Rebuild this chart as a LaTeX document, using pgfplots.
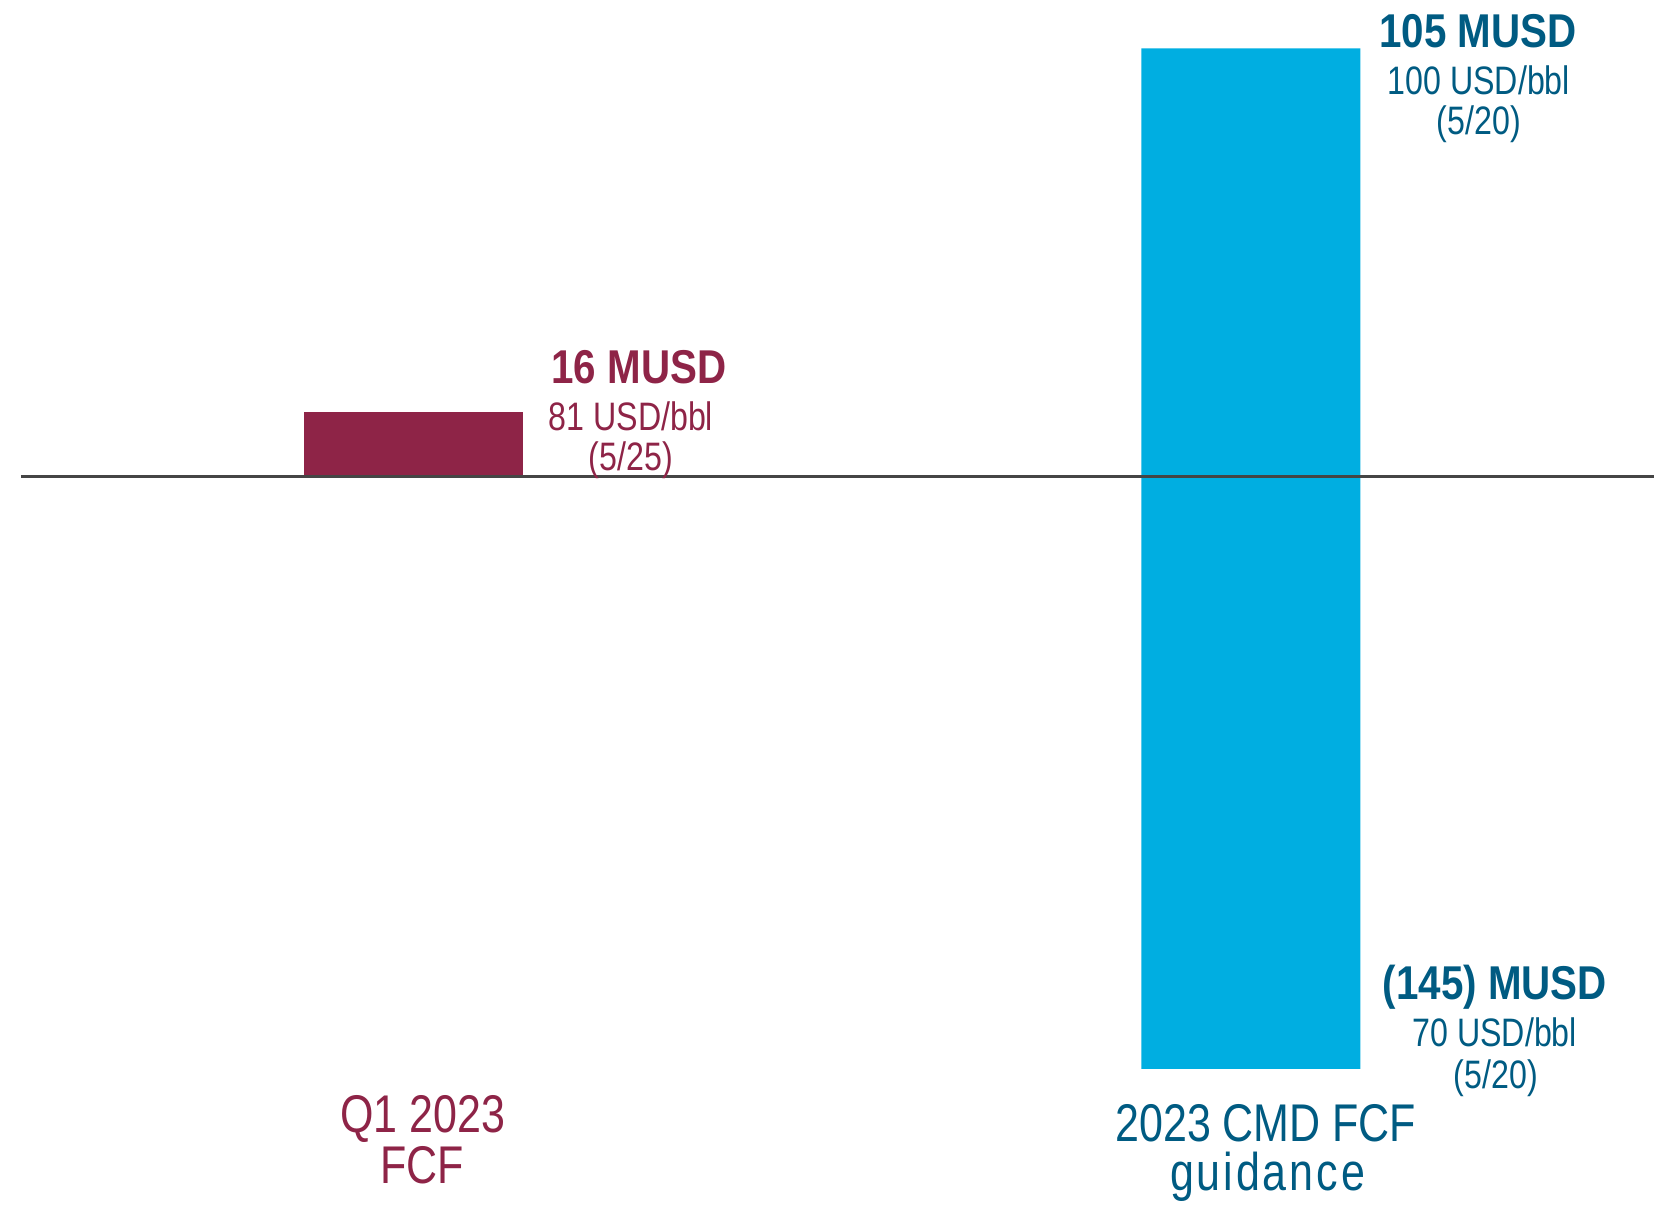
\documentclass[border=0pt]{standalone}
\usepackage{fontspec}
\usepackage{pgfplots}
\pgfplotsset{compat=1.18}
\setmainfont{Liberation Sans}
\newfontfamily\cond{Liberation Sans}[FakeStretch=0.81]
\newfontfamily\condls{Liberation Sans}[FakeStretch=0.81, LetterSpace=5.5]
\newfontfamily\condb{Liberation Sans}[FakeStretch=0.85]
\definecolor{maroon}{HTML}{8E2447}
\definecolor{cyanbar}{HTML}{00AEE1}
\definecolor{darkblue}{HTML}{005B82}
\definecolor{zeroline}{HTML}{454545}
\begin{document}
\begin{tikzpicture}
\begin{axis}[
  scale only axis,
  width=165.4mm, height=120.6mm,
  xmin=-0.4937, xmax=1.4815,
  ymin=-178.6, ymax=116.85,
  hide axis,
  clip=false,
  bar width=0.2615,
]
\addplot[ybar, bar shift=0pt, fill=maroon, draw=none] coordinates {(0,16)};
\addplot[ybar, bar shift=0pt, fill=cyanbar, draw=none] coordinates {(1,105) (1,-145)};
\addplot[zeroline, line width=0.85pt, mark=none] coordinates {(-0.4687,0) (1.4815,0)};
% labels bar 1
\node[anchor=base, text=maroon, font=\condb\bfseries\fontsize{13.5}{14}\selectfont] at (axis cs:0.2693,22.8) {16 MUSD};
\node[anchor=base, text=maroon, font=\cond\fontsize{11.3}{12}\selectfont] at (axis cs:0.2597,11.5) {81 USD/bbl};
\node[anchor=base, text=maroon, font=\cond\fontsize{11.3}{12}\selectfont] at (axis cs:0.2597,1.7) {(5/25)};
% labels bar 2 top
\node[anchor=base, text=darkblue, font=\condb\bfseries\fontsize{13.5}{14}\selectfont] at (axis cs:1.2711,105.2) {105 MUSD};
\node[anchor=base, text=darkblue, font=\cond\fontsize{11.3}{12}\selectfont] at (axis cs:1.2723,93.6) {100 USD/bbl};
\node[anchor=base, text=darkblue, font=\cond\fontsize{11.3}{12}\selectfont] at (axis cs:1.2723,83.8) {(5/20)};
% labels bar 2 bottom
\node[anchor=base, text=darkblue, font=\condb\bfseries\fontsize{13.5}{14}\selectfont] at (axis cs:1.2914,-127.9) {(145) MUSD};
\node[anchor=base, text=darkblue, font=\cond\fontsize{11.3}{12}\selectfont] at (axis cs:1.2914,-139.6) {70 USD/bbl};
\node[anchor=base, text=darkblue, font=\cond\fontsize{11.3}{12}\selectfont] at (axis cs:1.2925,-149.7) {(5/20)};
% category labels
\node[anchor=base, text=maroon, font=\cond\fontsize{15.1}{16}\selectfont] at (axis cs:0.0113,-160.7) {Q1 2023};
\node[anchor=base, text=maroon, font=\cond\fontsize{15.1}{16}\selectfont] at (axis cs:0.0101,-173.2) {FCF};
\node[anchor=base, text=darkblue, font=\cond\fontsize{15.1}{16}\selectfont] at (axis cs:1.0179,-162.7) {2023 CMD FCF};
\node[anchor=base, text=darkblue, font=\condls\fontsize{15.1}{16}\selectfont] at (axis cs:1.0200,-174.7) {guidance};
\end{axis}
\pgfresetboundingbox
\useasboundingbox (0,0) rectangle (165.4mm,120.6mm);
\end{tikzpicture}
\end{document}
